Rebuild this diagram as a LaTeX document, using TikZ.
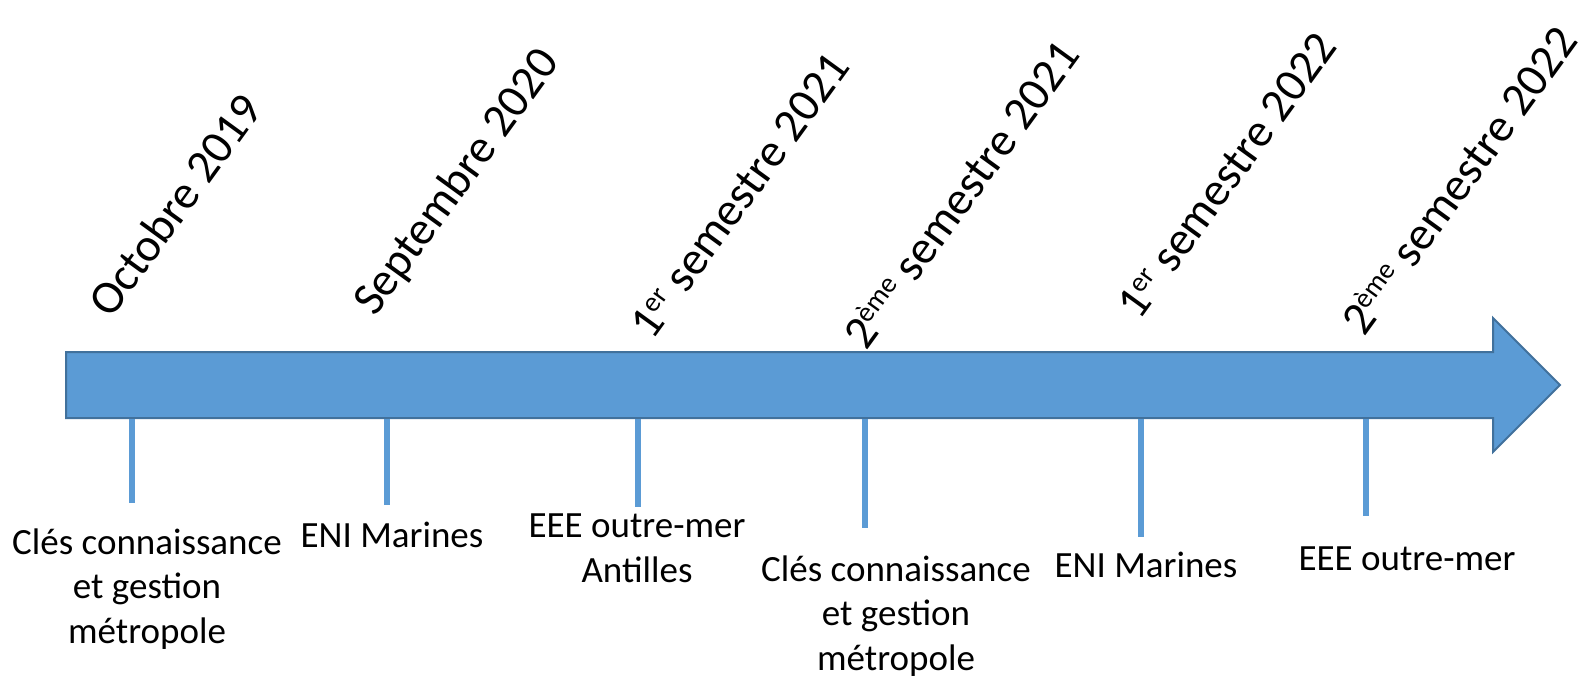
\documentclass[tikz,border=0pt]{standalone}
\usepackage{fontspec}
\setmainfont{Carlito}
\definecolor{arrowfill}{HTML}{5B9BD5}
\definecolor{arrowline}{HTML}{41719C}
\newcommand\supsc[1]{\raisebox{0.62ex}{\fontsize{28}{28}\selectfont #1}}
\begin{document}
\begin{tikzpicture}[x=1pt,y=-1pt,
  datelbl/.style={rotate=54, anchor=base west, inner sep=0pt, font=\fontsize{47}{56}\selectfont},
  evlbl/.style={anchor=base, align=center, inner sep=0pt, font=\fontsize{37}{44.5}\selectfont},
  tickline/.style={draw=arrowfill, line width=6pt},
  bigarrow/.style={fill=arrowfill, draw=arrowline, line width=2pt, line join=miter}]
\useasboundingbox (0,0) rectangle (1584,679);
% main arrow
\draw[bigarrow] (66,352) -- (1493,352) -- (1493,318) -- (1560,385) -- (1493,452) -- (1493,418) -- (66,418) -- cycle;
% tick anchors
\coordinate (t1) at (132,419); \coordinate (e1) at (132,503);
\coordinate (t2) at (387,419); \coordinate (e2) at (387,505);
\coordinate (t3) at (638,419); \coordinate (e3) at (638,507);
\coordinate (t4) at (865,419); \coordinate (e4) at (865,528);
\coordinate (t5) at (1141,419); \coordinate (e5) at (1141,537);
\coordinate (t6) at (1366,419); \coordinate (e6) at (1366,516);
\foreach \i in {1,...,6} \draw[tickline] (t\i) -- (e\i);
% dates
\node[datelbl] (d1) at (111,320) {Octobre 2019};
\node[datelbl] (d2) at (375,318) {Septembre 2020};
\node[datelbl] (d3) at (652,342) {1\supsc{er} semestre 2021};
\node[datelbl] (d4) at (866,352) {2\supsc{ème} semestre 2021};
\node[datelbl] (d5) at (1139,322) {1\supsc{er} semestre 2022};
\node[datelbl] (d6) at (1364,338) {2\supsc{ème} semestre 2022};
% events (base anchor = baseline of the last line)
\node[evlbl] (v1) at (147,643) {Clés connaissance\\et gestion\\métropole};
\node[evlbl] (v2) at (392,547) {ENI Marines};
\node[evlbl] (v3) at (637,582) {EEE outre-mer\\Antilles};
\node[evlbl] (v4) at (896,670) {Clés connaissance\\et gestion\\métropole};
\node[evlbl] (v5) at (1146,577) {ENI Marines};
\node[evlbl] (v6) at (1407,570) {EEE outre-mer};
\end{tikzpicture}
\end{document}
